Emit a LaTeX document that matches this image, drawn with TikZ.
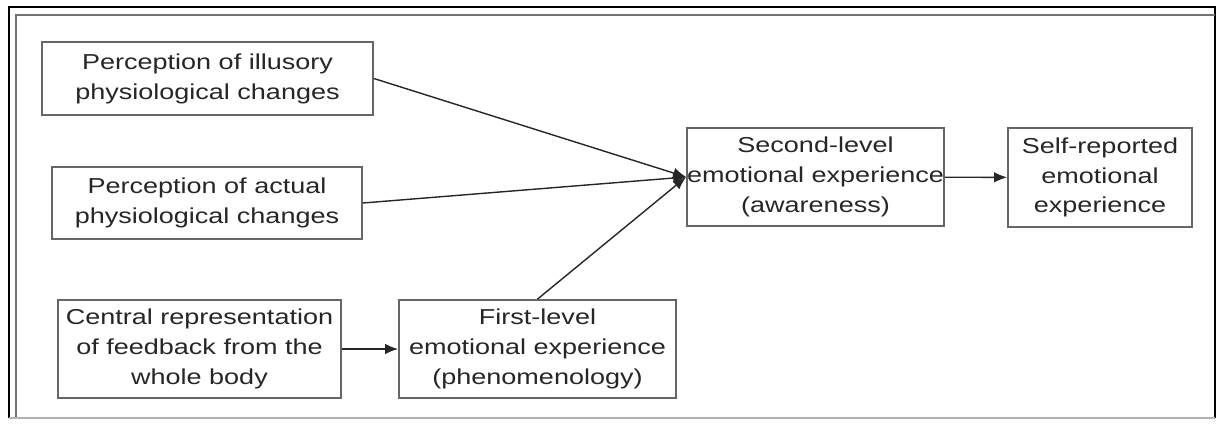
\documentclass[tikz,border=0pt]{standalone}
\usepackage{fontspec}
\setmainfont{Liberation Sans}[FakeStretch=1.25]
\usepackage{xcolor}
\usetikzlibrary{arrows.meta}
\definecolor{boxgray}{HTML}{666666}
\definecolor{txtgray}{HTML}{262626}
\tikzset{
  stage/.style={draw=boxgray, line width=1pt, align=center, inner sep=0pt,
    text=txtgray, font=\fontsize{12.3}{17}\selectfont},
  link/.style={-{Latex[length=2.6mm,width=2.1mm]}, line width=0.8pt, draw=black!85}
}

\begin{document}
\begin{tikzpicture}[x=0.02cm, y=-0.02cm]
\useasboundingbox (0,0) rectangle (1224,423);
% frame
\draw[line width=1.2pt] (9,418) -- (9,7) -- (1215,7) -- (1215,418);
\draw[line width=0.7pt, black!55] (16,418) -- (16,15) -- (1215,15);
\draw[line width=0.6pt, black!30] (9,418) -- (1215,418);

\node[stage, minimum width=331*0.02cm, minimum height=73*0.02cm] (illusory) at (207.5,78.5)
  {Perception of illusory\\physiological changes};
\node[stage, minimum width=310*0.02cm, minimum height=72*0.02cm] (actual) at (207,203)
  {Perception of actual\\physiological changes};
\node[stage, minimum width=283*0.02cm, minimum height=98*0.02cm] (central) at (199.5,349)
  {Central representation\\of feedback from the\\whole body};
\node[stage, minimum width=277*0.02cm, minimum height=98*0.02cm] (firstlvl) at (537.5,349)
  {First-level\\emotional experience\\(phenomenology)};
\node[stage, minimum width=257*0.02cm, minimum height=98*0.02cm] (secondlvl) at (815.5,177)
  {Second-level\\emotional experience\\(awareness)};
\node[stage, minimum width=184*0.02cm, minimum height=99*0.02cm] (selfrep) at (1100,177.5)
  {Self-reported\\emotional\\experience};

\draw[link] (illusory.east) -- (secondlvl.west);
\draw[link] (actual.east) -- (secondlvl.west);
\draw[link] (firstlvl.north) -- (secondlvl.west);
\draw[link] (central) -- (firstlvl);
\draw[link] (secondlvl) -- (selfrep);

\end{tikzpicture}
\end{document}
